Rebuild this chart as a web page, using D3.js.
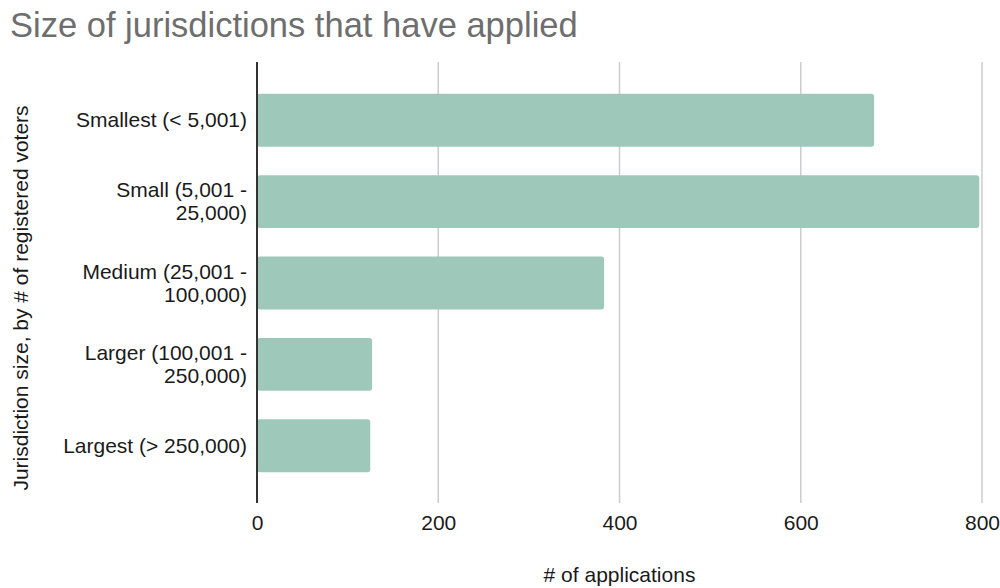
<!DOCTYPE html>
<html>
<head>
<meta charset="utf-8">
<script src="https://cdn.jsdelivr.net/npm/d3@7"></script>
<style>
  html, body { margin: 0; padding: 0; background: #fff; }
  svg { display: block; font-family: "Liberation Sans", Arial, sans-serif; }
</style>
</head>
<body>
<svg id="chart" width="1000" height="588"></svg>
<script>
const categories = [
  ["Smallest (< 5,001)"],
  ["Small (5,001 -", "25,000)"],
  ["Medium (25,001 -", "100,000)"],
  ["Larger (100,001 -", "250,000)"],
  ["Largest (> 250,000)"]
];
const categoryKeys = ["Smallest", "Small", "Medium", "Larger", "Largest"];
const applications = [681, 797, 383, 127, 125];
const xTicks = [0, 200, 400, 600, 800];
const titleText = "Size of jurisdictions that have applied";
const xTitle = "# of applications";
const yTitle = "Jurisdiction size, by # of registered voters";

(function () {
const svg = d3.select("#chart");
const pLeft = 257, pRight = 982, pTop = 62, pBottom = 503;
const FONT = "'Liberation Sans', Arial, sans-serif";

const x = d3.scaleLinear().domain([0, 800]).range([pLeft, pRight]);
const y = d3.scaleBand().domain(categoryKeys).range([pTop, pBottom + 1])
  .paddingInner(0.35).paddingOuter(0.39);

// title
svg.append("text").attr("x", 10).attr("y", 37)
  .attr("font-family", FONT)
  .attr("font-size", 34.5).attr("fill", "#6e6e6e").text(titleText);

// gridlines
svg.append("g").selectAll("line").data(xTicks.filter(d => d !== 0)).join("line")
  .attr("x1", d => x(d)).attr("x2", d => x(d))
  .attr("y1", pTop).attr("y2", pBottom)
  .attr("stroke", "#cccccc").attr("stroke-width", 1.5);

// bars
svg.append("g").selectAll("rect").data(applications).join("rect")
  .attr("x", x(0))
  .attr("y", (d, i) => y(categoryKeys[i]))
  .attr("width", d => x(d) - x(0))
  .attr("height", y.bandwidth())
  .attr("rx", 3)
  .attr("fill", "#9ec8ba");

// y axis line
svg.append("line").attr("x1", x(0)).attr("x2", x(0))
  .attr("y1", pTop).attr("y2", pBottom)
  .attr("stroke", "#333").attr("stroke-width", 2);

// x tick labels via axis
const xAxis = d3.axisBottom(x).tickValues(xTicks).tickSize(0).tickPadding(0).tickFormat(d3.format("d"));
const gx = svg.append("g").attr("transform", `translate(0, ${pBottom})`).call(xAxis);
gx.select(".domain").remove();
gx.selectAll("text").attr("font-size", 21).attr("fill", "#1a1a1a")
  .attr("font-family", FONT)
  .attr("dy", null).attr("y", 27);

// y tick labels
const lineH = 23;
const gy = svg.append("g");
categories.forEach((lines, i) => {
  const cy = y(categoryKeys[i]) + y.bandwidth() / 2;
  const t = gy.append("text").attr("text-anchor", "end")
    .attr("font-family", FONT)
    .attr("font-size", 21).attr("fill", "#1a1a1a");
  lines.forEach((ln, j) => {
    t.append("tspan").attr("x", 247)
      .attr("y", cy + (j - (lines.length - 1) / 2) * lineH + 7)
      .text(ln);
  });
});

// axis titles
svg.append("text").attr("x", (pLeft + pRight) / 2).attr("y", 582)
  .attr("font-family", FONT)
  .attr("text-anchor", "middle").attr("font-size", 21).attr("fill", "#1a1a1a").text(xTitle);
svg.append("text")
  .attr("transform", `translate(28, 298) rotate(-90)`)
  .attr("font-family", FONT)
  .attr("text-anchor", "middle").attr("font-size", 21).attr("fill", "#1a1a1a").text(yTitle);
})();
</script>
</body>
</html>
